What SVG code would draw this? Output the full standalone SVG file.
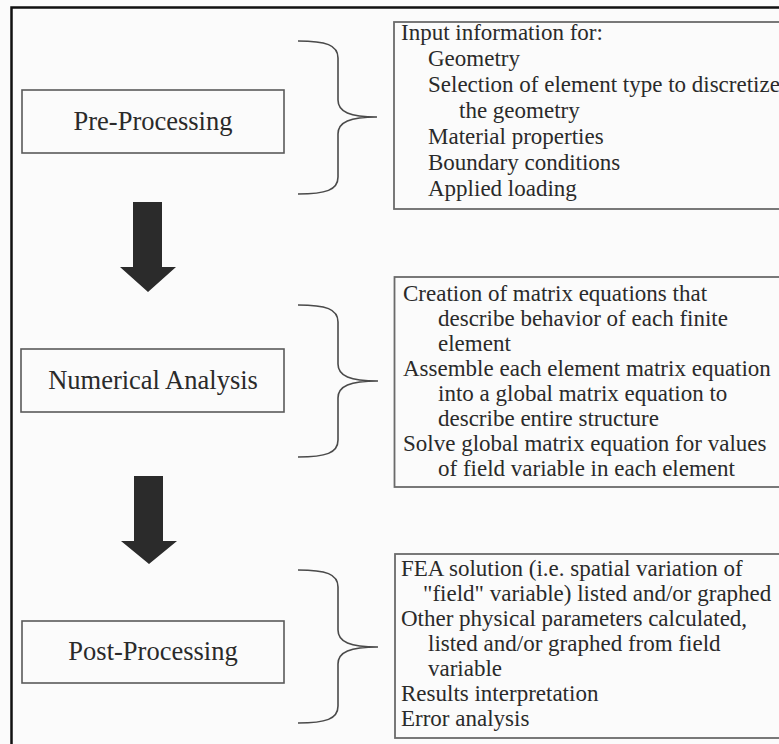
<svg xmlns="http://www.w3.org/2000/svg" width="779" height="744" viewBox="0 0 779 744">
  <style>
    .stage { fill: none; stroke: #5a5a5a; stroke-width: 1.6; }
    .stage-label { font-family: 'Liberation Serif', serif; font-size: 26.5px; fill: #2a2a2a; text-anchor: middle; }
    .detail-box { fill: none; stroke: #6a6a6a; stroke-width: 1.8; }
    .detail { font-family: 'Liberation Serif', serif; font-size: 23px; fill: #2a2a2a; }
    .brace { fill: none; stroke: #4a4a4a; stroke-width: 1.6; }
    .flow { fill: #2b2b2b; }
  </style>

  <rect x="0" y="0" width="779" height="744" fill="#fbfbfb"/>
  <!-- outer frame -->
  <rect x="11.5" y="7.5" width="800" height="800" fill="none" stroke="#111" stroke-width="2.5"/>

  <!-- stage nodes -->
  <g id="pre-processing">
    <rect class="stage" x="22" y="90" width="262" height="63"/>
    <text class="stage-label" x="153" y="130">Pre-Processing</text>
  </g>
  <g id="numerical-analysis">
    <rect class="stage" x="21" y="349" width="263" height="63"/>
    <text class="stage-label" x="153" y="389">Numerical Analysis</text>
  </g>
  <g id="post-processing">
    <rect class="stage" x="22" y="621" width="262" height="62"/>
    <text class="stage-label" x="153" y="660">Post-Processing</text>
  </g>

  <!-- detail nodes -->
  <g id="pre-details">
    <rect class="detail-box" x="394" y="22" width="420" height="187"/>
    <text class="detail" x="401" y="40">Input information for:</text>
    <text class="detail" x="428" y="66">Geometry</text>
    <text class="detail" x="428" y="92">Selection of element type to discretize</text>
    <text class="detail" x="459" y="118">the geometry</text>
    <text class="detail" x="428" y="144">Material properties</text>
    <text class="detail" x="428" y="170">Boundary conditions</text>
    <text class="detail" x="428" y="196">Applied loading</text>
  </g>
  <g id="analysis-details">
    <rect class="detail-box" x="394.5" y="277" width="420" height="210"/>
    <text class="detail" x="403" y="301">Creation of matrix equations that</text>
    <text class="detail" x="438" y="326">describe behavior of each finite</text>
    <text class="detail" x="438" y="351">element</text>
    <text class="detail" x="403" y="376">Assemble each element matrix equation</text>
    <text class="detail" x="438" y="401">into a global matrix equation to</text>
    <text class="detail" x="438" y="426">describe entire structure</text>
    <text class="detail" x="403" y="451">Solve global matrix equation for values</text>
    <text class="detail" x="438" y="476">of field variable in each element</text>
  </g>
  <g id="post-details">
    <rect class="detail-box" x="395" y="554" width="420" height="184"/>
    <text class="detail" x="401" y="576">FEA solution (i.e. spatial variation of</text>
    <text class="detail" x="423" y="601">"field" variable) listed and/or graphed</text>
    <text class="detail" x="401" y="626">Other physical parameters calculated,</text>
    <text class="detail" x="428" y="651">listed and/or graphed from field</text>
    <text class="detail" x="428" y="676">variable</text>
    <text class="detail" x="401" y="701">Results interpretation</text>
    <text class="detail" x="401" y="726">Error analysis</text>
  </g>

  <!-- connectors: braces and flow arrows -->
  <g id="connectors">
    <path class="brace" d="M298,41 C326,41 338,45 338,58 L338,100 C338,112 350,117 377,117 C350,117 338,122 338,134 L338,177 C338,190 326,194 298,194"/>
    <path class="brace" d="M298,305 C326,305 338,309 338,322 L338,364 C338,376 350,381 378,381 C350,381 338,386 338,398 L338,440 C338,453 326,457 298,457"/>
    <path class="brace" d="M298,570 C326,570 338,574 338,587 L338,630 C338,642 350,647 378,647 C350,647 338,652 338,664 L338,706 C338,719 326,723 298,723"/>
    <polygon class="flow" points="133,202 162,202 162,267 176,267 148,292 120,267 133,267"/>
    <polygon class="flow" points="134,476 163,476 163,541 177,541 149,564 121,541 134,541"/>
  </g>
</svg>
